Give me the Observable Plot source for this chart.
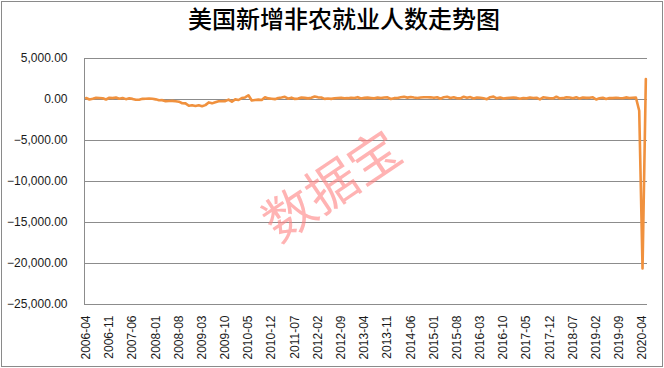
<!DOCTYPE html>
<html><head><meta charset="utf-8">
<script src="https://cdn.jsdelivr.net/npm/d3@7"></script>
<script src="https://cdn.jsdelivr.net/npm/@observablehq/plot@0.6"></script>
<style>
body{margin:0;background:#fff}
#wrap{position:relative;width:664px;height:368px;overflow:hidden;background:#fff}
#title{height:48px;line-height:54px;text-align:center;font:500 24px "Noto Sans CJK SC";color:#000;padding-left:24px;box-sizing:border-box;white-space:nowrap}
#border{position:absolute;left:1px;top:1px;width:660px;height:364px;border:1px solid #8a8a8a;pointer-events:none}
svg{display:block}
</style></head>
<body>
<div id="wrap"><div id="title">美国新增非农就业人数走势图</div><div id="chart"></div><div id="border"></div></div>
<script>
// categories: months 2006-04 .. 2020-05
const months = [];
for (let y = 2006; y <= 2020; y++) {
  for (let m = 1; m <= 12; m++) {
    if (y === 2006 && m < 4) continue;
    if (y === 2020 && m > 5) continue;
    months.push(`${y}-${String(m).padStart(2, "0")}`);
  }
}
// monthly nonfarm payroll change (thousands)
const v2006 = [184, 6, 81, 206, 184, 157, 3, 210, 169];
const v2007 = [237, 89, 186, 44, 144, 74, -33, -24, 81, 83, 117, 98];
const v2008 = [17, -84, -78, -210, -185, -165, -209, -266, -452, -473, -769, -695];
const v2009 = [-791, -703, -823, -686, -351, -470, -329, -212, -219, -200, -7, -279];
const v2010 = [14, -61, 180, 252, 516, -128, -63, -18, -69, 264, 134, 91];
const v2011 = [42, 188, 238, 326, 97, 229, 71, 108, 236, 202, 135, 209];
const v2012 = [357, 262, 238, 80, 120, 76, 149, 178, 202, 149, 162, 222];
const v2013 = [191, 284, 133, 199, 227, 182, 138, 241, 188, 236, 269, 63];
const v2014 = [166, 190, 264, 324, 230, 306, 236, 183, 248, 276, 282, 265];
const v2015 = [203, 274, 91, 283, 331, 178, 266, 146, 140, 334, 218, 294];
const v2016 = [118, 238, 215, 150, 41, 280, 351, 145, 252, 121, 167, 219];
const v2017 = [230, 197, 92, 185, 140, 239, 177, 221, 18, 270, 222, 157];
const v2018 = [140, 330, 139, 164, 271, 237, 160, 274, 111, 245, 200, 216];
const v2019 = [269, 1, 145, 216, 62, 178, 166, 219, 180, 152, 256, 184];
const v2020 = [214, 251, -1373, -20600, 2509];
const values = [].concat(v2006, v2007, v2008, v2009, v2010, v2011, v2012, v2013, v2014, v2015, v2016, v2017, v2018, v2019, v2020);

const xTicks = months.filter((d, i) => i % 7 === 0);
const yTicks = [5000, 0, -5000, -10000, -15000, -20000, -25000];
const watermark = ["数据宝"];

const data = months.map((m, i) => ({m, v: values[i]}));

const chart = Plot.plot({
  width: 664, height: 320,
  marginTop: 10, marginBottom: 64, marginLeft: 84, marginRight: 17,
  style: {fontFamily: "'Liberation Sans', Arial, sans-serif", fontSize: "12px", color: "#1a1a1a", background: "transparent", overflow: "visible"},
  x: {type: "point", domain: months, padding: 0.5},
  y: {domain: [-25000, 5000]},
  marks: [
    Plot.ruleY(yTicks, {stroke: "#8c8c8c", strokeWidth: 1, strokeOpacity: 1}),
    Plot.frame({anchor: "left", stroke: "#8c8c8c", strokeOpacity: 1}),
    Plot.axisY({ticks: yTicks, tickSize: 0, tickPadding: 17, tickFormat: d3.format(",.2f"), label: null}),
    Plot.axisX({ticks: xTicks, tickSize: 0, tickPadding: 11, tickRotate: -90, label: null}),
    Plot.text(watermark, {frameAnchor: "middle", dx: -33, dy: 6, rotate: -34, fontSize: 51, fill: "#ff8080", fillOpacity: 0.6, fontFamily: "Noto Sans CJK SC"}),
    Plot.line(data, {x: "m", y: "v", stroke: "#f0913e", strokeWidth: 2.6, strokeLinejoin: "round"})
  ]
});
document.getElementById("chart").appendChild(chart);
</script>
</body></html>
